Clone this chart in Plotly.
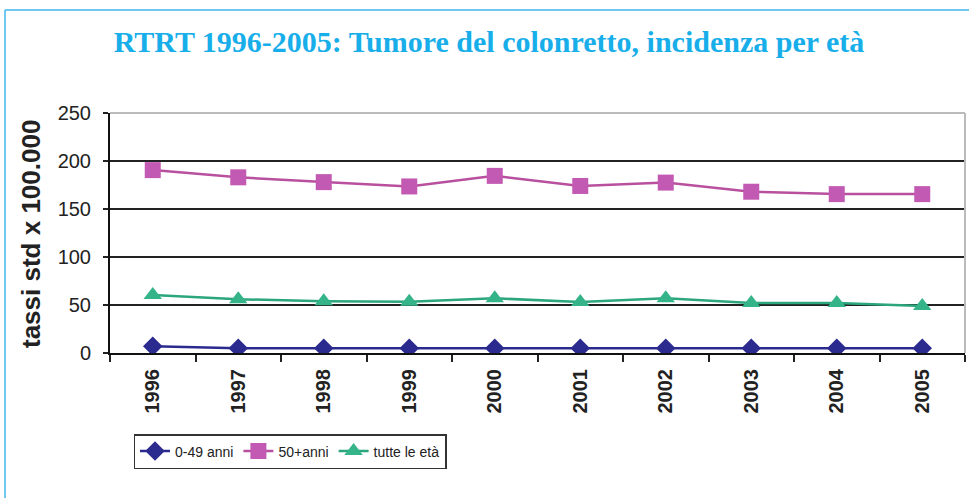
import plotly.graph_objects as go

years = ["1996", "1997", "1998", "1999", "2000", "2001", "2002", "2003", "2004", "2005"]
eta_0_49 = [7, 5, 5, 5, 5, 5, 5, 5, 5, 5]
eta_50_plus = [190.5, 183, 178, 173.5, 184.5, 174, 177.5, 168, 165.5, 165.5]
tutte_eta = [60.5, 56, 54, 53.5, 57, 53, 57, 52, 52, 49]
y_ticks = [0, 50, 100, 150, 200, 250]

title_text = "RTRT 1996-2005: Tumore del colonretto, incidenza per età"
y_title = "tassi std x 100.000"

L, R, T, B = 110, 4, 113, 145
W, H = 969, 498
pw, ph = W - L - R, H - T - B


def px(x):
    return (x - L) / pw


def py(y):
    return (H - B - y) / ph


fig = go.Figure()
fig.add_trace(go.Scatter(
    x=years, y=eta_0_49, name="0-49 anni", mode="lines+markers",
    line=dict(color="#2B2A8E", width=2.5),
    marker=dict(symbol="diamond", size=15, color="#2B2A8E"),
))
fig.add_trace(go.Scatter(
    x=years, y=eta_50_plus, name="50+anni", mode="lines+markers",
    line=dict(color="#B8509F", width=2.5),
    marker=dict(symbol="square", size=16, color="#C25AB3"),
))
fig.add_trace(go.Scatter(
    x=years, y=tutte_eta, name="tutte le età", mode="lines+markers",
    line=dict(color="#2BA67E", width=2.5),
    marker=dict(symbol="triangle-up", size=16, color="#34B488"),
))

shapes = [
    dict(type="line", xref="paper", yref="paper", x0=px(5), x1=px(5), y0=py(10), y1=py(498),
         line=dict(color="#3FB6EA", width=1.5)),
    dict(type="line", xref="paper", yref="paper", x0=px(5), x1=px(969), y0=py(10), y1=py(10),
         line=dict(color="#3FB6EA", width=1.5)),
    dict(type="line", xref="paper", yref="paper", x0=0, x1=1, y0=1, y1=1,
         line=dict(color="#BBBBBB", width=2), layer="above"),
    dict(type="line", xref="paper", yref="paper", x0=1, x1=1, y0=0, y1=1,
         line=dict(color="#BBBBBB", width=2), layer="above"),
]

fig.update_layout(
    width=W, height=H,
    margin=dict(l=L, r=R, t=T, b=B, autoexpand=False),
    paper_bgcolor="white", plot_bgcolor="white",
    title=dict(text="<b>" + title_text + "</b>", x=489 / W, xanchor="center",
               y=1 - 41 / H, yanchor="middle",
               font=dict(family="Liberation Serif", size=30, color="#17AEEA")),
    xaxis=dict(
        type="category", tickson="boundaries", ticks="outside", ticklen=7, tickwidth=1.5,
        tickcolor="#222", showline=True, linecolor="#111", linewidth=2,
        showgrid=False, tickangle=-90, ticklabelstandoff=6,
        tickfont=dict(family="Arial, Liberation Sans", size=20, color="#222", weight="bold"),
        range=[-0.5, 9.5],
    ),
    yaxis=dict(
        range=[0, 250], tickvals=y_ticks, ticks="outside", ticklen=5, tickwidth=1.5,
        tickcolor="#222", showline=True, linecolor="#111", linewidth=2,
        showgrid=True, gridcolor="#222", gridwidth=2, zeroline=False,
        ticklabelstandoff=8,
        tickfont=dict(family="Arial, Liberation Sans", size=20, color="#222"),
    ),
    showlegend=True,
    legend=dict(
        orientation="h", x=px(290), xanchor="center", y=py(434), yanchor="top",
        bordercolor="#333", borderwidth=1.5, bgcolor="white",
        font=dict(family="Liberation Sans Narrow, Arial Narrow, Liberation Sans", size=14, color="#222"),
        itemwidth=30, tracegroupgap=0,
    ),
    shapes=shapes,
    annotations=[dict(
        text="<b>" + y_title + "</b>", xref="paper", yref="paper",
        x=px(31), y=py(234), xanchor="center", yanchor="middle", textangle=-90,
        showarrow=False, font=dict(family="Arial, Liberation Sans", size=26, color="#222"),
    )],
)

fig.write_html("out.html", config={"displayModeBar": False},
               post_script="document.body.style.margin='0';document.body.style.padding='0';")
